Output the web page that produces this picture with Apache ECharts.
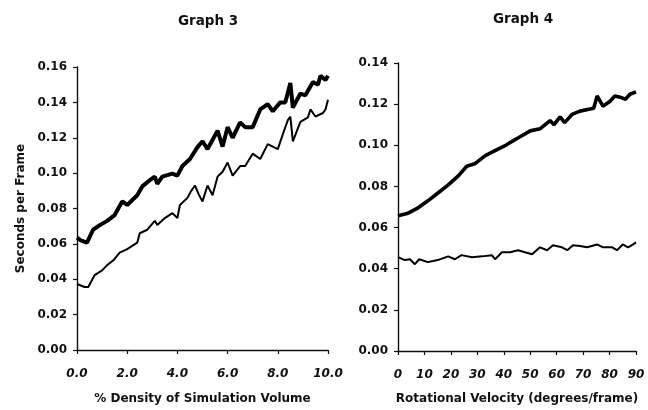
<!DOCTYPE html>
<html>
<head>
<meta charset="utf-8">
<script src="https://cdn.jsdelivr.net/npm/echarts@6/dist/echarts.min.js"></script>
<style>html,body{margin:0;padding:0;background:#fff}#c{width:648px;height:410px}</style>
</head>
<body>
<div id="c"></div>
<script>
// Graph 3: % density vs seconds per frame
var g3ThickX = [0.0,0.15,0.4,0.64,0.92,1.2,1.5,1.8,2.0,2.4,2.6,2.9,3.1,3.2,3.4,3.8,4.0,4.2,4.5,4.8,5.0,5.2,5.6,5.8,6.0,6.2,6.5,6.7,7.0,7.3,7.6,7.8,8.1,8.3,8.5,8.6,8.9,9.1,9.4,9.6,9.7,9.9,10.0];
var g3ThickY = [0.0635,0.062,0.0607,0.068,0.0707,0.073,0.0763,0.084,0.082,0.0875,0.0925,0.096,0.098,0.094,0.098,0.0997,0.0986,0.104,0.108,0.1147,0.118,0.1136,0.124,0.115,0.126,0.120,0.1287,0.126,0.126,0.136,0.139,0.135,0.140,0.140,0.151,0.137,0.145,0.144,0.1515,0.150,0.155,0.1526,0.155];
var g3ThinX = [0.0,0.3,0.45,0.7,1.0,1.2,1.45,1.7,2.0,2.4,2.5,2.8,3.1,3.2,3.5,3.8,4.0,4.1,4.4,4.55,4.7,4.85,5.0,5.2,5.4,5.6,5.8,6.0,6.2,6.5,6.7,7.0,7.3,7.6,8.0,8.2,8.4,8.5,8.6,8.9,9.2,9.3,9.5,9.8,9.9,10.0];
var g3ThinY = [0.0373,0.0356,0.0356,0.0423,0.045,0.048,0.0507,0.055,0.057,0.0607,0.066,0.068,0.073,0.0707,0.0746,0.0774,0.0746,0.082,0.086,0.090,0.093,0.088,0.084,0.093,0.0875,0.098,0.1008,0.106,0.0986,0.104,0.104,0.111,0.108,0.1164,0.1136,0.122,0.130,0.132,0.118,0.129,0.1315,0.136,0.132,0.134,0.136,0.1415];
// Graph 4: rotational velocity vs seconds per frame
var g4ThickX = [0,3.8,7.6,11.3,15.1,18.9,22.7,26,29,33,36.7,40.5,43,46,50,53.7,57.5,59,61.3,63,65.8,68.8,72.6,74,75.3,77.5,80.2,82,84,86,87.7,90];
var g4ThickY = [0.0658,0.067,0.0696,0.073,0.0768,0.0806,0.085,0.0898,0.091,0.095,0.0974,0.0998,0.1018,0.104,0.107,0.108,0.112,0.110,0.1138,0.111,0.115,0.1166,0.1176,0.118,0.124,0.119,0.1214,0.124,0.1234,0.1224,0.1248,0.126];
var g4ThinX = [0,2.6,4.5,6.4,8,11.3,15,19,21.5,24,28,31.8,35.5,36.7,39.3,42.4,45.4,48,50.7,53.7,56.4,58.6,62,64,66.2,68.8,71.5,75.3,77.5,81,82.8,85,87,88.9,90];
var g4ThinY = [0.0456,0.0442,0.0446,0.0422,0.0446,0.0432,0.0442,0.046,0.0446,0.0466,0.0456,0.046,0.0466,0.0446,0.048,0.048,0.049,0.048,0.047,0.0504,0.049,0.0514,0.0504,0.049,0.0514,0.051,0.0504,0.0518,0.0504,0.0504,0.049,0.0518,0.0504,0.0518,0.0528];

var titles = ['Graph 3', 'Graph 4'];
var xNames = ['% Density of Simulation Volume', 'Rotational Velocity (degrees/frame)'];
var yName = 'Seconds per Frame';

function zip(xs, ys){ return xs.map(function(x,i){ return [x, ys[i]]; }); }

var FONT = 'DejaVu Sans';
var axisLine = {lineStyle:{color:'#111', width:1.4}};
var axisTick = {show:true, length:4, lineStyle:{color:'#111', width:1.2}};
function yLab(){ return {color:'#111', fontFamily:FONT, fontWeight:'bold', fontSize:12, margin:10, formatter:function(v){return v.toFixed(2);}}; }

var chart = echarts.init(document.getElementById('c'));
chart.setOption({
  animation:false,
  backgroundColor:'#fff',
  title:[
    {text:titles[0], left:203, top:9, textAlign:'center', textStyle:{fontFamily:FONT, fontWeight:'bold', fontSize:13.5, color:'#111'}},
    {text:titles[1], left:518, top:7, textAlign:'center', textStyle:{fontFamily:FONT, fontWeight:'bold', fontSize:13.5, color:'#111'}}
  ],
  grid:[
    {left:77, right:320, top:67, bottom:56},
    {left:398, right:12, top:63, bottom:55}
  ],
  xAxis:[
    {type:'value', gridIndex:0, min:0, max:10, interval:2, axisLine:axisLine, axisTick:axisTick, splitLine:{show:false},
     axisLabel:{color:'#111', fontFamily:FONT, fontWeight:'bold', fontStyle:'italic', fontSize:12, margin:18, formatter:function(v){return v.toFixed(1);}},
     name:xNames[0], nameLocation:'middle', nameGap:43, nameTextStyle:{fontFamily:FONT, fontWeight:'bold', fontSize:12, color:'#111'}},
    {type:'value', gridIndex:1, min:0, max:90, interval:10, axisLine:axisLine, axisTick:axisTick, splitLine:{show:false},
     axisLabel:{color:'#111', fontFamily:FONT, fontWeight:'bold', fontStyle:'italic', fontSize:12, margin:18},
     name:xNames[1], nameLocation:'middle', nameGap:42, nameTextStyle:{fontFamily:FONT, fontWeight:'bold', fontSize:12, color:'#111'}}
  ],
  yAxis:[
    {type:'value', gridIndex:0, min:0, max:0.16, interval:0.02, axisLine:{show:true, lineStyle:{color:'#111', width:1.4}}, axisTick:axisTick, splitLine:{show:false},
     axisLabel:yLab(), name:yName, nameLocation:'middle', nameRotate:90, nameGap:50, nameTextStyle:{fontFamily:FONT, fontWeight:'bold', fontSize:12, color:'#111'}},
    {type:'value', gridIndex:1, min:0, max:0.14, interval:0.02, axisLine:{show:true, lineStyle:{color:'#111', width:1.4}}, axisTick:axisTick, splitLine:{show:false},
     axisLabel:yLab()}
  ],
  series:[
    {type:'line', xAxisIndex:0, yAxisIndex:0, data:zip(g3ThickX, g3ThickY), showSymbol:false, lineStyle:{color:'#000', width:4}},
    {type:'line', xAxisIndex:0, yAxisIndex:0, data:zip(g3ThinX, g3ThinY), showSymbol:false, lineStyle:{color:'#000', width:2}},
    {type:'line', xAxisIndex:1, yAxisIndex:1, data:zip(g4ThickX, g4ThickY), showSymbol:false, lineStyle:{color:'#000', width:3.6}},
    {type:'line', xAxisIndex:1, yAxisIndex:1, data:zip(g4ThinX, g4ThinY), showSymbol:false, lineStyle:{color:'#000', width:2}}
  ]
});
</script>
</body>
</html>
